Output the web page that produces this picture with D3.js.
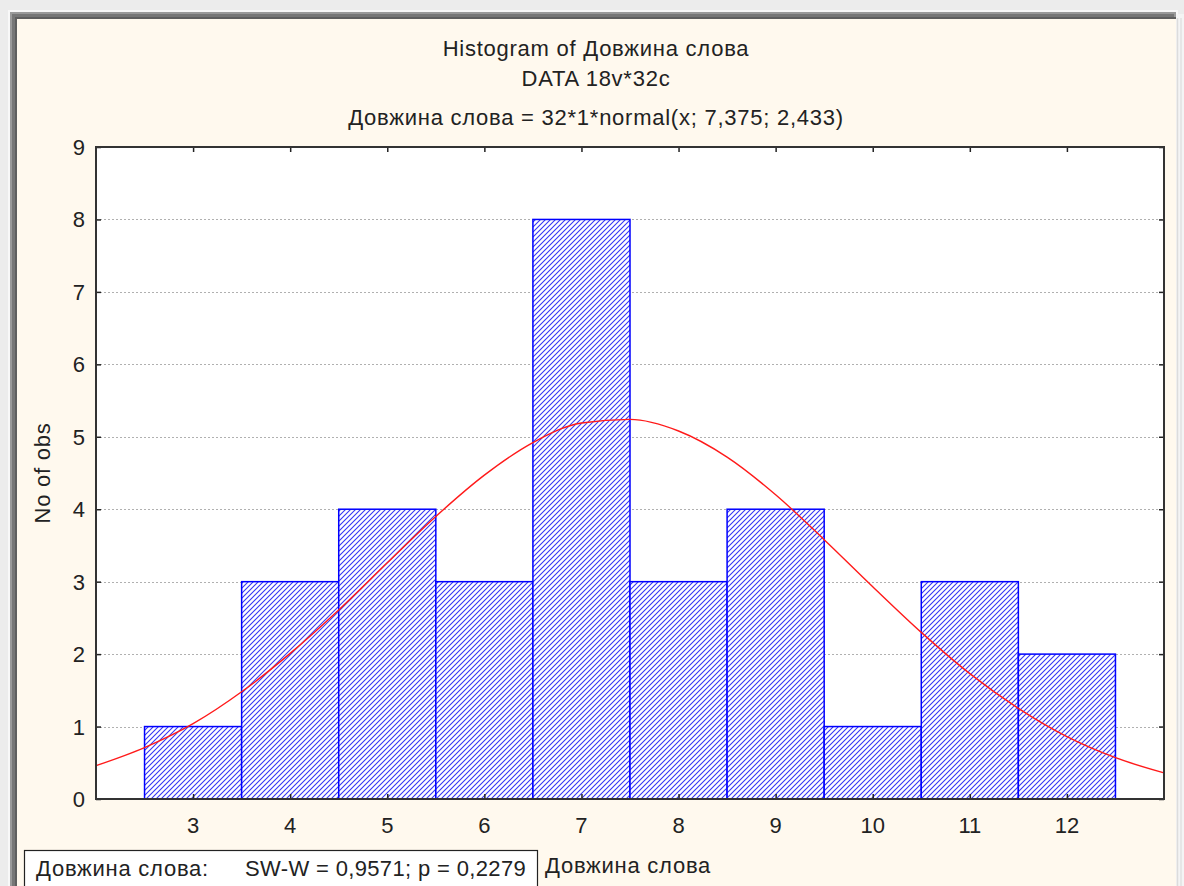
<!DOCTYPE html>
<html><head><meta charset="utf-8">
<script src="https://cdn.jsdelivr.net/npm/d3@7"></script>
<style>html,body{margin:0;padding:0;background:#efefef;}svg{display:block;font-family:"Liberation Sans",Arial,sans-serif;}</style>
</head><body><svg id="c" width="1184" height="886"></svg>
<script>
const categories = [3,4,5,6,7,8,9,10,11,12];
const counts = [1,3,4,3,8,3,4,1,3,2];
const yTicks = [0,1,2,3,4,5,6,7,8,9];
const curveX = [2,2.5,3,3.5,4,4.5,5,5.5,6,6.5,7,7.5,8,8.5,9,9.5,10,10.5,11,11.5,12,12.5,13];
const curveY = [0.46,0.71,1.04,1.48,2.01,2.61,3.26,3.90,4.47,4.92,5.19,5.24,5.08,4.72,4.20,3.58,2.93,2.30,1.73,1.25,0.86,0.57,0.36];
const titles = ["Histogram of Довжина слова","DATA 18v*32c","Довжина слова = 32*1*normal(x; 7,375; 2,433)"];
const legendLabel = "Довжина слова:";
const legendStat = "SW-W = 0,9571; p = 0,2279";
const xTitle = "Довжина слова";
const yTitle = "No of obs";

const FS = 22;
const LS = 0.75;
const svg = d3.select("#c");
// frame
svg.append("rect").attr("x",0).attr("y",0).attr("width",1184).attr("height",886).attr("fill","#ececec");
svg.append("rect").attr("x",8).attr("y",10).attr("width",1170).attr("height",880).attr("fill","#f8f8f8");
svg.append("rect").attr("x",10).attr("y",12).attr("width",1166).attr("height",880).attr("fill","#9a9a9a");
svg.append("rect").attr("x",12).attr("y",14).attr("width",1162).attr("height",880).attr("fill","#777");
svg.append("rect").attr("x",15).attr("y",17).attr("width",1161).attr("height",880).attr("fill","#5f5f5f");
svg.append("rect").attr("x",17).attr("y",19).attr("width",1159).attr("height",880).attr("fill","#fff9ee");
svg.append("rect").attr("x",1176).attr("y",14).attr("width",8).attr("height",880).attr("fill","#f4f4f4");
svg.append("line").attr("x1",1177.5).attr("x2",1177.5).attr("y1",18).attr("y2",886).attr("stroke","#dcdcdc").attr("stroke-width",1.5);
svg.append("line").attr("x1",1181).attr("x2",1181).attr("y1",18).attr("y2",886).attr("stroke","#e2e2e2").attr("stroke-width",1.5);

const defs = svg.append("defs");
const pat = defs.append("pattern").attr("id","hatch").attr("patternUnits","userSpaceOnUse").attr("width",5).attr("height",5);
pat.append("rect").attr("width",5).attr("height",5).attr("fill","#fff");
pat.append("path").attr("d","M-1,6 L6,-1 M-1,1 L1,-1 M4,6 L6,4").attr("stroke","#3535f5").attr("stroke-width",1.1);

const L=96,R=1164,T=147,B=799;
const x = d3.scaleLinear().domain([2,13]).range([L,R]);
const y = d3.scaleLinear().domain([0,9]).range([B,T]);

const g = svg.append("g");
g.append("rect").attr("x",L).attr("y",T).attr("width",R-L).attr("height",B-T).attr("fill","#fff");
// grid
g.selectAll("line.grid").data(yTicks.filter(d=>d>0&&d<9)).join("line")
 .attr("x1",L).attr("x2",R).attr("y1",d=>Math.round(y(d))+0.5).attr("y2",d=>Math.round(y(d))+0.5)
 .attr("stroke","#b0b0b0").attr("stroke-dasharray","2,2").attr("stroke-width",1);
// bars
g.selectAll("rect.bar").data(categories).join("rect")
 .attr("x",(d)=>x(d-0.5)).attr("width",d=>x(d+0.5)-x(d-0.5))
 .attr("y",(d,i)=>y(counts[i])).attr("height",(d,i)=>B-y(counts[i]))
 .attr("fill","url(#hatch)").attr("stroke","#0000ff").attr("stroke-width",1.5);
// curve
const line = d3.line().x(d=>x(d[0])).y(d=>y(d[1])).curve(d3.curveMonotoneX);
g.append("path").datum(curveX.map((v,i)=>[v,curveY[i]])).attr("d",line)
 .attr("fill","none").attr("stroke","#ff1a1a").attr("stroke-width",1.4);

// axes: ticks inside
const tl=5;
const axL = d3.axisRight(y).tickValues(yTicks).tickSize(tl).tickFormat("");
const axR = d3.axisLeft(y).tickValues(yTicks).tickSize(tl).tickFormat("");
const axT = d3.axisBottom(x).tickValues(categories).tickSize(tl).tickFormat("");
const axB = d3.axisTop(x).tickValues(categories).tickSize(tl).tickFormat("");
[[axL,`translate(${L},0)`],[axR,`translate(${R},0)`],[axT,`translate(0,${T})`],[axB,`translate(0,${B})`]].forEach(([a,t])=>{
  const ag=svg.append("g").attr("transform",t).call(a);
  ag.select(".domain").remove();
  ag.selectAll("line").attr("stroke","#222").attr("stroke-width",1.5);
});
svg.append("rect").attr("x",L).attr("y",T).attr("width",R-L).attr("height",B-T).attr("fill","none").attr("stroke","#333").attr("stroke-width",2);

// tick labels
svg.append("g").selectAll("text").data(yTicks).join("text")
 .attr("x",85).attr("y",d=>y(d)+8).attr("text-anchor","end").attr("font-size",FS).attr("fill","#222").text(d=>d);
svg.append("g").selectAll("text").data(categories).join("text")
 .attr("x",d=>x(d)).attr("y",833).attr("text-anchor","middle").attr("font-size",FS).attr("fill","#222").text(d=>d);

// titles
const ty=[56,86,125];
svg.append("g").selectAll("text").data(titles).join("text")
 .attr("x",596).attr("y",(d,i)=>ty[i]).attr("text-anchor","middle").attr("font-size",FS).attr("letter-spacing",LS).attr("fill","#222").text(d=>d);

// y title
svg.append("text").attr("transform","translate(50,473) rotate(-90)").attr("text-anchor","middle")
 .attr("font-size",FS).attr("letter-spacing",LS).attr("fill","#222").text(yTitle);

// legend box
svg.append("rect").attr("x",24.5).attr("y",850.5).attr("width",513).attr("height",40).attr("fill","#fff").attr("stroke","#222").attr("stroke-width",1.2);
svg.append("text").attr("x",36).attr("y",876).attr("font-size",FS).attr("letter-spacing",LS).attr("fill","#222").text(legendLabel);
svg.append("text").attr("x",245).attr("y",876).attr("font-size",FS).attr("letter-spacing",0.35).attr("fill","#222").text(legendStat);
svg.append("text").attr("x",545).attr("y",873).attr("font-size",FS).attr("letter-spacing",LS).attr("fill","#222").text(xTitle);
</script></body></html>
